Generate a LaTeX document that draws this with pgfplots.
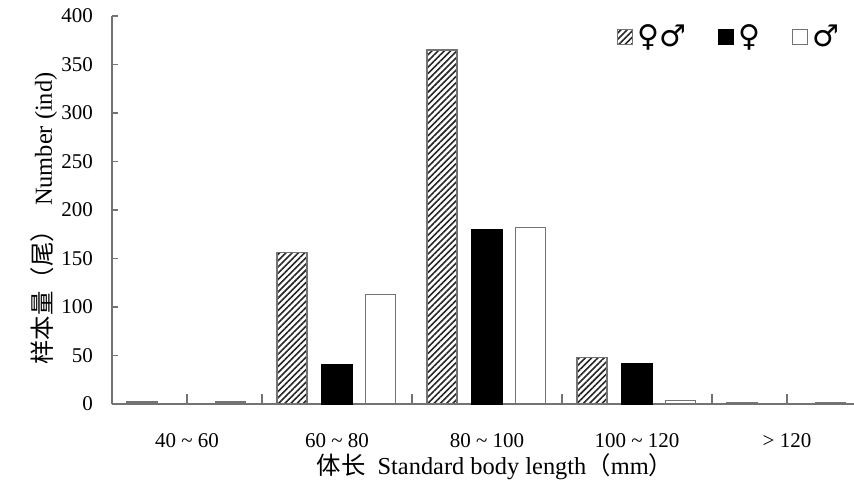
\documentclass[border=0pt]{standalone}
\usepackage{pgfplots}
\pgfplotsset{compat=1.18}
\usetikzlibrary{patterns.meta}
\usepackage{fontspec}
\setmainfont{Liberation Serif}
\newfontfamily\cjk{Noto Sans CJK SC}
\newfontfamily\sym{DejaVu Sans}
\begin{document}
\begin{tikzpicture}
\path[use as bounding box] (-56pt,-42.5pt) rectangle (371pt,202pt);
\begin{axis}[
  scale only axis, width=371pt, height=194pt,
  at={(0,0)}, anchor=south west,
  xmin=-0.5, xmax=4.447, ymin=0, ymax=400,
  axis x line*=bottom, axis y line*=left,
  axis line style={draw=black!55, line width=0.6pt, -},
  ybar, bar width=0.2,
  tick align=inside,
  xtick={0.5,1.5,2.5,3.5}, xticklabels={},
  xtick style={draw=black!55, line width=0.6pt, /pgfplots/major tick length=5pt},
  extra x ticks={0,1,2,3,4},
  extra x tick labels={40 \textasciitilde\ 60, 60 \textasciitilde\ 80, 80 \textasciitilde\ 100, 100 \textasciitilde\ 120, > 120},
  extra x tick style={major tick length=0pt, tick style={draw=none}},
  ytick={0,50,...,400},
  ytick style={draw=black!55, line width=0.6pt, /pgfplots/major tick length=3pt},
  tick label style={font=\fontsize{10.5}{12}\selectfont},
  yticklabel style={xshift=-6pt},
  xticklabel style={yshift=-11pt},
  /pgf/number format/assume math mode=true,
  xlabel={{\cjk 体长}\ \ Standard body length{\cjk （}mm{\cjk ）}},
  ylabel={{\cjk 样本量（尾）}\ \ Number (ind)},
  every axis x label/.style={at={(axis description cs:0.516,0)}, yshift=-31.5pt, anchor=center,
    font=\fontsize{12.2}{14}\selectfont},
  every axis y label/.style={at={(axis description cs:0,0.478)}, xshift=-34pt, rotate=90, anchor=center,
    font=\fontsize{12.2}{14}\selectfont},
  legend columns=3,
  legend style={draw=none, fill=none, at={(axis description cs:0.672,1.0)}, anchor=north west,
    font=\sym\fontsize{15}{17}\selectfont,
    /tikz/every even column/.append style={column sep=14pt}},
  legend image code/.code={\draw[#1] (0pt,-3.75pt) rectangle (7.5pt,3.75pt);},
]
\addplot[bar shift=-0.3, draw=black!55, line width=0.6pt,
  pattern={Lines[angle=45,distance=2.2pt,line width=0.8pt]}, pattern color=black!85]
  coordinates {(0,2) (1,156) (2,365) (3,48) (4,1)};
\addlegendentry{♀♂}
\addplot[bar shift=0, draw=black, fill=black, line width=0.6pt]
  coordinates {(1,41) (2,180) (3,42)};
\addlegendentry{♀}
\addplot[bar shift=0.29, draw=black!55, fill=white, line width=0.6pt]
  coordinates {(0,2) (1,113) (2,182) (3,4) (4,1)};
\addlegendentry{♂}
\end{axis}
\end{tikzpicture}
\end{document}
